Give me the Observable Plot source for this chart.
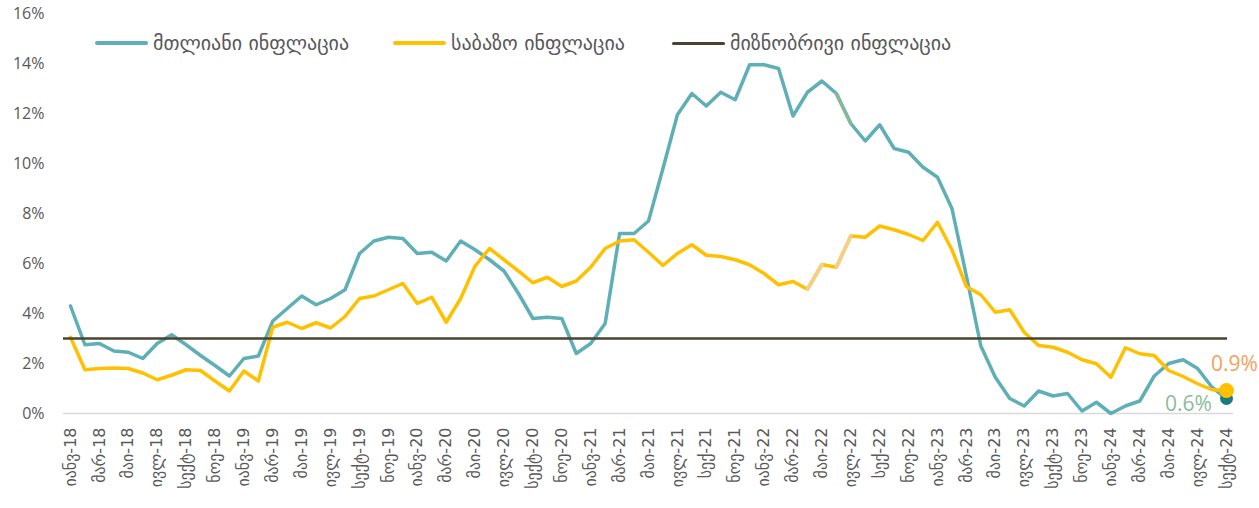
<!DOCTYPE html>
<html><head><meta charset="utf-8">
<script src="https://cdn.jsdelivr.net/npm/d3@7"></script>
<script src="https://cdn.jsdelivr.net/npm/@observablehq/plot@0.6"></script>
<style>
body{margin:0;background:#fff;}
#wrap{position:relative;width:1259px;height:508px;overflow:hidden;}
.leg{position:absolute;top:31px;height:24px;line-height:24px;display:flex;align-items:center;font-family:"DejaVu Sans",sans-serif;font-size:20px;color:#595959;white-space:nowrap;}
.leg .sw{display:inline-block;width:53px;height:4px;border-radius:2px;margin-right:5px;}
</style></head><body><div id="wrap"><div id="chart"></div></div>
<script>
// Monthly categories Jan 2018 – Sep 2024
const months = d3.utcMonths(new Date(Date.UTC(2018,0,1)), new Date(Date.UTC(2024,9,1))).map(d3.utcFormat("%Y-%m"));

const tickLabels = [
 "იანვ-18","მარ-18","მაი-18","ივლ-18","სექტ-18","ნოე-18",
 "იანვ-19","მარ-19","მაი-19","ივლ-19","სექტ-19","ნოე-19",
 "იანვ-20","მარ-20","მაი-20","ივლ-20","სექტ-20","ნოე-20",
 "იანვ-21","მარ-21","მაი-21","ივლ-21","სექ-21","ნოე-21",
 "იანვ-22","მარ-22","მაი-22","ივლ-22","სექ-22","ნოე-22",
 "იანვ-23","მარ-23","მაი-23","ივლ-23","სექტ-23","ნოე-23",
 "იანვ-24","მარ-24","მაი-24","ივლ-24","სექტ-24"
];

// მთლიანი ინფლაცია (headline), %
const overall = [
 4.3, 2.75, 2.8, 2.5, 2.45, 2.2, 2.8, 3.15, 2.75, 2.32, 1.92, 1.5,
 2.2, 2.3, 3.7, 4.2, 4.7, 4.35, 4.6, 4.95, 6.4, 6.9, 7.05, 7.0,
 6.4, 6.45, 6.1, 6.9, 6.55, 6.15, 5.7, 4.8, 3.8, 3.85, 3.8, 2.4,
 2.8, 3.6, 7.2, 7.2, 7.7, 9.8, 11.95, 12.8, 12.3, 12.85, 12.55, 13.95,
 13.95, 13.8, 11.9, 12.85, 13.3, 12.8, 11.6, 10.9, 11.55, 10.6, 10.45, 9.85,
 9.45, 8.2, 5.5, 2.7, 1.45, 0.6, 0.3, 0.9, 0.7, 0.8, 0.1, 0.45,
 0.0, 0.3, 0.5, 1.5, 2.0, 2.15, 1.8, 1.05, 0.6
];

// საბაზო ინფლაცია (core), %
const core = [
 3.05, 1.75, 1.8, 1.82, 1.8, 1.62, 1.35, 1.53, 1.75, 1.72, 1.3, 0.9,
 1.7, 1.3, 3.45, 3.65, 3.4, 3.63, 3.42, 3.88, 4.6, 4.7, 4.95, 5.2,
 4.4, 4.65, 3.65, 4.6, 5.9, 6.6, 6.15, 5.7, 5.23, 5.45, 5.08, 5.3,
 5.85, 6.6, 6.9, 6.95, 6.45, 5.92, 6.4, 6.75, 6.33, 6.28, 6.15, 5.95,
 5.6, 5.15, 5.28, 4.97, 5.96, 5.85, 7.1, 7.05, 7.5, 7.35, 7.16, 6.92,
 7.65, 6.55, 5.08, 4.75, 4.05, 4.15, 3.25, 2.72, 2.65, 2.45, 2.15, 1.99,
 1.45, 2.63, 2.39, 2.32, 1.72, 1.48, 1.19, 0.95, 0.92
];

// მიზნობრივი ინფლაცია (target), %
const target = 3;

// segments drawn in a lighter tint in the original
const coreHighlights = [[51,52],[53,54]];
const overallHighlights = [[53,54]];

const seriesNames = ["მთლიანი ინფლაცია","საბაზო ინფლაცია","მიზნობრივი ინფლაცია"];
const colors = {overall:"#5FAFB6", core:"#FFC000", target:"#4A4330", coreLight:"#F5CE8A", overallLight:"#88B89B", dotOverall:"#1C7A80", lblCore:"#F6A05C", lblOverall:"#8DBB9C"};

const rows = months.map((m,i)=>({m, i, overall: overall[i], core: core[i]}));
const tickMonths = months.filter((_,i)=>i%2===0);
const tickMap = new Map(tickMonths.map((m,k)=>[m, tickLabels[k]]));
const last = rows.slice(-1);

const segMarks = [];
for (const [a,b] of coreHighlights) segMarks.push(Plot.lineY(rows.slice(a,b+1),{x:"m",y:"core",stroke:colors.coreLight,strokeWidth:3.5}));
const segMarksO = [];
for (const [a,b] of overallHighlights) segMarksO.push(Plot.lineY(rows.slice(a,b+1),{x:"m",y:"overall",stroke:colors.overallLight,strokeWidth:3.5}));

const chart = Plot.plot({
  width:1259, height:508,
  marginTop:13, marginBottom:95, marginLeft:63, marginRight:26,
  style:{background:"#fff", fontFamily:'"Open Sans","DejaVu Sans",sans-serif'},
  x:{type:"point", domain:months, padding:0, insetLeft:7, insetRight:7},
  y:{domain:[0,16]},
  marks:[
    Plot.ruleY([0],{stroke:"#D9D9D9", strokeWidth:1.5}),
    Plot.axisY({ticks:d3.range(0,17,2), tickFormat:d=>d+"%", tickSize:0, tickPadding:19, fontSize:16, color:"#595959", label:null}),
    Plot.axisX({ticks:tickMonths, tickFormat:d=>tickMap.get(d), tickRotate:-90, tickSize:0, tickPadding:14, fontSize:16, color:"#595959", fontFamily:"DejaVu Sans", label:null}),
    Plot.lineY(rows,{x:"m",y:"overall",stroke:colors.overall,strokeWidth:3.5}),
    ...segMarksO,
    Plot.lineY(rows,{x:"m",y:"core",stroke:colors.core,strokeWidth:3.5}),
    ...segMarks,
    Plot.ruleY([target],{stroke:colors.target, strokeWidth:2.5, insetRight:6}),
    Plot.dot(last,{x:"m",y:"overall",r:6.5,fill:colors.dotOverall}),
    Plot.dot(last,{x:"m",y:"core",r:7.5,fill:colors.core}),
    Plot.text(last,{x:"m",y:"core",text:d=>d3.format(".1f")(d.core)+"%",fill:colors.lblCore,fontSize:21,dx:8,dy:-26}),
    Plot.text(last,{x:"m",y:"overall",text:d=>d3.format(".1f")(d.overall)+"%",fill:colors.lblOverall,fontSize:21,dx:-38,dy:6})
  ]
});
document.getElementById("chart").appendChild(chart);

// legend
const legendItems = [
  {name:seriesNames[0], color:colors.overall, left:95, h:4},
  {name:seriesNames[1], color:colors.core, left:393, h:4},
  {name:seriesNames[2], color:colors.target, left:672, h:3}
];
const wrap = document.getElementById("wrap");
for (const it of legendItems){
  const d = document.createElement("div");
  d.className = "leg";
  d.style.left = it.left + "px";
  const sw = document.createElement("span");
  sw.className = "sw"; sw.style.background = it.color; sw.style.height = it.h + "px";
  const t = document.createElement("span"); t.textContent = it.name;
  d.appendChild(sw); d.appendChild(t);
  wrap.appendChild(d);
}
</script></body></html>
